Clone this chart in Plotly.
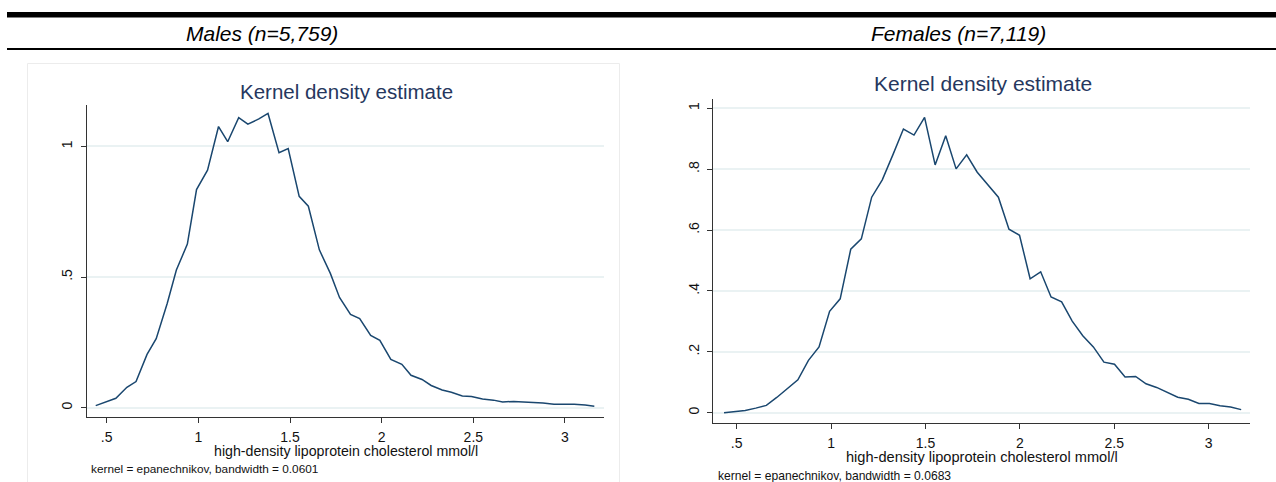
import plotly.graph_objects as go

W, H = 1276, 482

# ---- data ----
male_x = [0.44, 0.50, 0.55, 0.61, 0.66, 0.72, 0.77, 0.83, 0.88, 0.94,
          0.99, 1.05, 1.11, 1.16, 1.22, 1.27, 1.33, 1.38, 1.44, 1.49,
          1.55, 1.60, 1.66, 1.72, 1.77, 1.83, 1.88, 1.94, 1.99, 2.05,
          2.11, 2.16, 2.22, 2.27, 2.33, 2.38, 2.44, 2.49, 2.55, 2.61,
          2.66, 2.72, 2.77, 2.83, 2.88, 2.94, 2.99, 3.05, 3.11, 3.16]
male_density = [0.008, 0.022, 0.036, 0.078, 0.100, 0.204, 0.264, 0.399, 0.527, 0.626,
                0.835, 0.909, 1.076, 1.018, 1.110, 1.085, 1.105, 1.126, 0.976, 0.992,
                0.809, 0.771, 0.604, 0.514, 0.422, 0.357, 0.341, 0.277, 0.258, 0.185,
                0.166, 0.124, 0.108, 0.085, 0.068, 0.059, 0.045, 0.043, 0.033, 0.029,
                0.022, 0.024, 0.023, 0.020, 0.018, 0.013, 0.013, 0.013, 0.010, 0.006]

female_x = [0.433, 0.489, 0.545, 0.601, 0.657, 0.712, 0.768, 0.824, 0.880, 0.936,
            0.992, 1.048, 1.104, 1.160, 1.215, 1.271, 1.327, 1.383, 1.439, 1.495,
            1.551, 1.607, 1.662, 1.718, 1.774, 1.830, 1.886, 1.942, 1.998, 2.054,
            2.110, 2.165, 2.221, 2.277, 2.333, 2.389, 2.445, 2.501, 2.557, 2.613,
            2.668, 2.724, 2.780, 2.836, 2.892, 2.948, 3.004, 3.060, 3.116, 3.172]
female_density = [0.000, 0.003, 0.007, 0.015, 0.024, 0.050, 0.078, 0.108, 0.172, 0.216,
                  0.333, 0.374, 0.537, 0.571, 0.708, 0.765, 0.847, 0.932, 0.912, 0.970,
                  0.814, 0.910, 0.801, 0.847, 0.790, 0.750, 0.708, 0.603, 0.583, 0.440,
                  0.463, 0.380, 0.364, 0.301, 0.253, 0.216, 0.166, 0.159, 0.117, 0.119,
                  0.095, 0.083, 0.066, 0.051, 0.044, 0.030, 0.030, 0.023, 0.019, 0.010]

x_ticks = [0.5, 1, 1.5, 2, 2.5, 3]
x_tick_labels = [".5", "1", "1.5", "2", "2.5", "3"]
male_y_ticks = [0, 0.5, 1]
male_y_labels = ["0", ".5", "1"]
female_y_ticks = [0, 0.2, 0.4, 0.6, 0.8, 1]
female_y_labels = ["0", ".2", ".4", ".6", ".8", "1"]

headers = ["Males (n=5,759)", "Females (n=7,119)"]
panel_title = "Kernel density estimate"
x_title = "high-density lipoprotein cholesterol mmol/l"
notes = ["kernel = epanechnikov, bandwidth = 0.0601",
         "kernel = epanechnikov, bandwidth = 0.0683"]

LINE = "#1a476f"
GRID = "#eaf2f3"
TITLE_C = "#26375e"
FONT = "Liberation Sans, Arial, sans-serif"


def px(x):
    return x / W


def py(y):
    return 1 - y / H


fig = go.Figure()
fig.add_trace(go.Scatter(x=male_x, y=male_density, mode="lines",
                         line=dict(color=LINE, width=1.5), xaxis="x", yaxis="y",
                         showlegend=False))
fig.add_trace(go.Scatter(x=female_x, y=female_density, mode="lines",
                         line=dict(color=LINE, width=1.5), xaxis="x2", yaxis="y2",
                         showlegend=False))

axis_common = dict(showline=True, linecolor="#333333", linewidth=1, ticks="outside",
                   ticklen=5, tickcolor="#333333", zeroline=False,
                   tickfont=dict(family=FONT, size=14, color="#111111"))

fig.update_layout(
    width=W, height=H, margin=dict(l=0, r=0, t=0, b=0),
    paper_bgcolor="white", plot_bgcolor="white",
    xaxis=dict(domain=[px(87), px(604)], range=[0.3925, 3.2128], anchor="y",
               tickvals=x_ticks, ticktext=x_tick_labels, showgrid=False,
               ticklabelstandoff=2, **axis_common),
    yaxis=dict(domain=[py(416.7), py(105)], range=[-0.0344, 1.1584], anchor="x",
               tickvals=male_y_ticks, ticktext=male_y_labels, tickangle=-90,
               showgrid=True, gridcolor=GRID, gridwidth=1.5,
               ticklabelstandoff=3, **axis_common),
    xaxis2=dict(domain=[px(713.3), px(1250)], range=[0.376, 3.2187], anchor="y2",
                tickvals=x_ticks, ticktext=x_tick_labels, showgrid=False,
                ticklabelstandoff=2, **axis_common),
    yaxis2=dict(domain=[py(422.7), py(99.3)], range=[-0.0329, 1.0296], anchor="x2",
                tickvals=female_y_ticks, ticktext=female_y_labels, tickangle=-90,
                showgrid=True, gridcolor=GRID, gridwidth=1.5,
                ticklabelstandoff=3, **axis_common),
)

# header rules and the faint frame round the left panel
fig.add_shape(type="line", xref="paper", yref="paper", x0=px(7), x1=1, y0=py(14.8), y1=py(14.8),
              line=dict(color="black", width=5.5))
fig.add_shape(type="line", xref="paper", yref="paper", x0=px(7), x1=1, y0=py(49), y1=py(49),
              line=dict(color="black", width=2))
fig.add_shape(type="rect", xref="paper", yref="paper", x0=px(27.5), x1=px(619.5),
              y0=py(490), y1=py(63.5), line=dict(color="#ececec", width=1))

# text
for txt, cx in zip(headers, [262, 958]):
    fig.add_annotation(text=txt, x=px(cx), y=py(33.5), xref="paper", yref="paper",
                       showarrow=False, xanchor="center", yanchor="middle",
                       font=dict(family=FONT, size=21, color="black", style="italic"))

for cx, cy, size in [(346.5, 91, 20.5), (983, 83, 21)]:
    fig.add_annotation(text=panel_title, x=px(cx), y=py(cy), xref="paper", yref="paper",
                       showarrow=False, xanchor="center", yanchor="middle",
                       font=dict(family=FONT, size=size, color=TITLE_C))

for cx, cy, size in [(345.5, 451, 14.2), (982, 457, 14.6)]:
    fig.add_annotation(text=x_title, x=px(cx), y=py(cy), xref="paper", yref="paper",
                       showarrow=False, xanchor="center", yanchor="middle",
                       font=dict(family=FONT, size=size, color="#111111"))

for txt, lx, cy, size in zip(notes, [89, 716], [469, 475.5], [11.8, 12.1]):
    fig.add_annotation(text=txt, x=px(lx), y=py(cy), xref="paper", yref="paper",
                       showarrow=False, xanchor="left", yanchor="middle",
                       font=dict(family=FONT, size=size, color="#111111"))

# drop the browser's default page margin so the figure sits at the window's corner
fig.write_html("out.html", config={"displayModeBar": False},
               post_script="document.body.style.margin='0';document.body.style.overflow='hidden';")
